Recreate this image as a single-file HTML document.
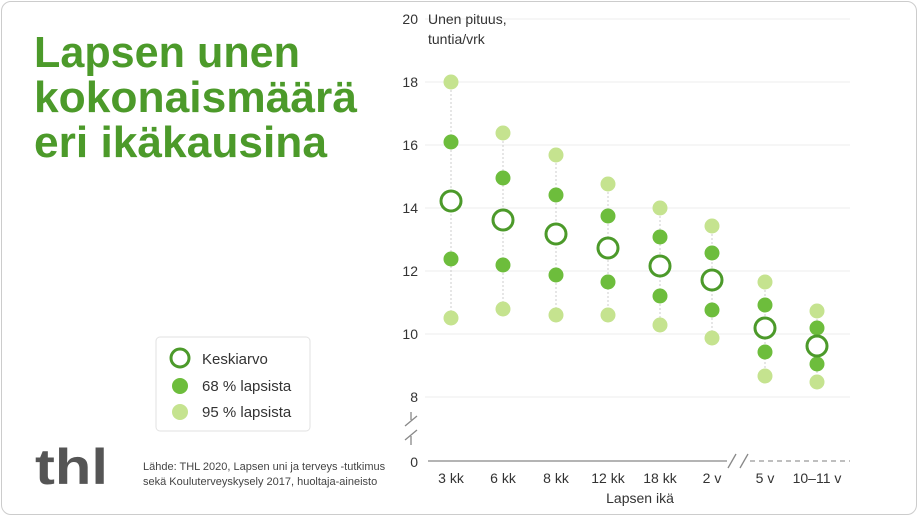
<!DOCTYPE html>
<html><head><meta charset="utf-8"><style>
body{margin:0;background:#fff;}
.card{position:absolute;left:1px;top:1px;width:916px;height:514px;border:1px solid #ccc;border-radius:10px;box-sizing:border-box;}
svg{position:absolute;left:0;top:0;}
text{font-family:"Liberation Sans",sans-serif;}
</style></head><body>
<div class="card"></div>
<svg width="920" height="518" viewBox="0 0 920 518">
<g font-weight="bold" font-size="44" fill="#4c9a2a">
<text x="34" y="67" textLength="266" lengthAdjust="spacingAndGlyphs">Lapsen unen</text>
<text x="34" y="112" textLength="323" lengthAdjust="spacingAndGlyphs">kokonaismäärä</text>
<text x="34" y="157" textLength="293" lengthAdjust="spacingAndGlyphs">eri ikäkausina</text>
</g>
<rect x="156" y="337" width="154" height="94" rx="4" fill="#fff" stroke="#e2e2e2"/>
<circle cx="180" cy="358" r="9" fill="none" stroke="#4c9a2a" stroke-width="3"/>
<circle cx="180" cy="386" r="8" fill="#6dbd3c"/>
<circle cx="180" cy="412" r="8" fill="#c5e38f"/>
<g font-size="15" fill="#333">
<text x="202" y="364">Keskiarvo</text>
<text x="202" y="391">68 % lapsista</text>
<text x="202" y="417">95 % lapsista</text>
</g>
<text x="35" y="484" font-size="50" font-weight="bold" fill="#555" textLength="73" lengthAdjust="spacingAndGlyphs">thl</text>
<g font-size="11" fill="#444">
<text x="143" y="470">Lähde: THL 2020, Lapsen uni ja terveys -tutkimus</text>
<text x="143" y="485">sekä Kouluterveyskysely 2017, huoltaja-aineisto</text>
</g>
<g stroke="#ececec" stroke-width="1">
<line x1="425" y1="19" x2="850" y2="19"/><line x1="425" y1="82" x2="850" y2="82"/>
<line x1="425" y1="145" x2="850" y2="145"/><line x1="425" y1="208" x2="850" y2="208"/>
<line x1="425" y1="271" x2="850" y2="271"/><line x1="425" y1="334" x2="850" y2="334"/>
<line x1="425" y1="397" x2="850" y2="397"/>
</g>
<g font-size="14" fill="#333" text-anchor="end">
<text x="418" y="24">20</text><text x="418" y="87">18</text><text x="418" y="150">16</text>
<text x="418" y="213">14</text><text x="418" y="276">12</text><text x="418" y="339">10</text>
<text x="418" y="402">8</text><text x="418" y="467">0</text>
</g>
<text x="428" y="24" font-size="14" fill="#333">Unen pituus,</text>
<text x="428" y="44" font-size="14" fill="#333">tuntia/vrk</text>
<g stroke="#888" stroke-width="1.3">
<line x1="411" y1="412" x2="411" y2="420"/><line x1="405" y1="426" x2="417" y2="416"/>
<line x1="405" y1="440" x2="417" y2="430"/><line x1="411" y1="436" x2="411" y2="445"/>
<line x1="428" y1="461" x2="727" y2="461"/>
<line x1="728" y1="468" x2="736" y2="454"/><line x1="740" y1="468" x2="748" y2="454"/>
</g>
<line x1="750" y1="461" x2="850" y2="461" stroke="#999" stroke-width="1.2" stroke-dasharray="5,4"/>
<g font-size="14" fill="#333" text-anchor="middle">
<text x="451" y="483">3 kk</text><text x="503" y="483">6 kk</text><text x="556" y="483">8 kk</text>
<text x="608" y="483">12 kk</text><text x="660" y="483">18 kk</text><text x="712" y="483">2 v</text>
<text x="765" y="483">5 v</text><text x="817" y="483">10–11 v</text>
<text x="640" y="503">Lapsen ikä</text>
</g>
<g stroke="#ccc" stroke-dasharray="2,2">
<line x1="451" y1="82" x2="451" y2="318"/><line x1="503" y1="133" x2="503" y2="309"/>
<line x1="556" y1="155" x2="556" y2="315"/><line x1="608" y1="184" x2="608" y2="315"/>
<line x1="660" y1="208" x2="660" y2="325"/><line x1="712" y1="226" x2="712" y2="338"/>
<line x1="765" y1="282" x2="765" y2="376"/><line x1="817" y1="311" x2="817" y2="382"/>
</g>
<g fill="#c5e38f">
<circle cx="451" cy="82" r="7.5"/><circle cx="451" cy="318" r="7.5"/>
<circle cx="503" cy="133" r="7.5"/><circle cx="503" cy="309" r="7.5"/>
<circle cx="556" cy="155" r="7.5"/><circle cx="556" cy="315" r="7.5"/>
<circle cx="608" cy="184" r="7.5"/><circle cx="608" cy="315" r="7.5"/>
<circle cx="660" cy="208" r="7.5"/><circle cx="660" cy="325" r="7.5"/>
<circle cx="712" cy="226" r="7.5"/><circle cx="712" cy="338" r="7.5"/>
<circle cx="765" cy="282" r="7.5"/><circle cx="765" cy="376" r="7.5"/>
<circle cx="817" cy="311" r="7.5"/><circle cx="817" cy="382" r="7.5"/>
</g>
<g fill="#6dbd3c">
<circle cx="451" cy="142" r="7.5"/><circle cx="451" cy="259" r="7.5"/>
<circle cx="503" cy="178" r="7.5"/><circle cx="503" cy="265" r="7.5"/>
<circle cx="556" cy="195" r="7.5"/><circle cx="556" cy="275" r="7.5"/>
<circle cx="608" cy="216" r="7.5"/><circle cx="608" cy="282" r="7.5"/>
<circle cx="660" cy="237" r="7.5"/><circle cx="660" cy="296" r="7.5"/>
<circle cx="712" cy="253" r="7.5"/><circle cx="712" cy="310" r="7.5"/>
<circle cx="765" cy="305" r="7.5"/><circle cx="765" cy="352" r="7.5"/>
<circle cx="817" cy="328" r="7.5"/><circle cx="817" cy="364" r="7.5"/>
</g>
<g fill="#fff" stroke="#4c9a2a" stroke-width="3">
<circle cx="451" cy="201" r="10"/><circle cx="503" cy="220" r="10"/>
<circle cx="556" cy="234" r="10"/><circle cx="608" cy="248" r="10"/>
<circle cx="660" cy="266" r="10"/><circle cx="712" cy="280" r="10"/>
<circle cx="765" cy="328" r="10"/><circle cx="817" cy="346" r="10"/>
</g>
</svg>
</body></html>
